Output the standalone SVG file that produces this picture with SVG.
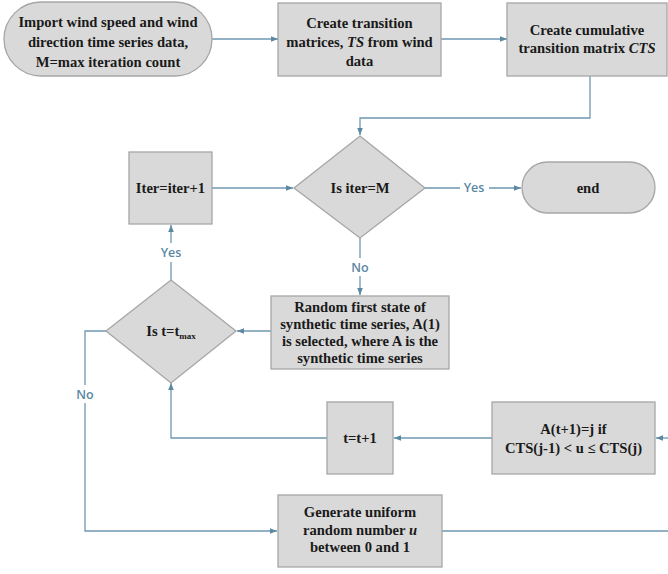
<svg xmlns="http://www.w3.org/2000/svg" width="668" height="574" viewBox="0 0 668 574">
<style>
.n{fill:#d9d9d9;stroke:#a6a6a6;stroke-width:1.3}
.t{font-family:"Liberation Serif","Times New Roman",serif;font-weight:bold;font-size:14.6px;fill:#1a1a1a;text-anchor:middle}
.c{fill:none;stroke:#6e97b0;stroke-width:1.3}
.l{font-family:"Open Sans","Liberation Sans",sans-serif;font-weight:600;font-size:12.5px;fill:#5b88a3;text-anchor:middle}
</style>
<defs>
<marker id="a" viewBox="0 0 10 10" refX="10" refY="5" markerWidth="7" markerHeight="7" orient="auto" markerUnits="userSpaceOnUse">
<path d="M0,1 L10,5 L0,9 Z" fill="#5b88a3"/>
</marker>
</defs>
<rect width="668" height="574" fill="#ffffff"/>
<g id="connectors">
<path class="c" d="M212,39 H278" marker-end="url(#a)"/>
<path class="c" d="M441,39 H507" marker-end="url(#a)"/>
<path class="c" d="M590,76 V118 H360 V135" marker-end="url(#a)"/>
<path class="c" d="M212,188 H293" marker-end="url(#a)"/>
<path class="c" d="M425,188 H460 M489,188 H521" marker-end="url(#a)"/>
<path class="c" d="M360,238 V258 M360,276 V295" marker-end="url(#a)"/>
<path class="c" d="M271,331 H237" marker-end="url(#a)"/>
<path class="c" d="M171,280 V262 M171,243 V225" marker-end="url(#a)"/>
<path class="c" d="M106,331 H85 V385 M85,403 V531 H277" marker-end="url(#a)"/>
<path class="c" d="M327,438 H171 V383" marker-end="url(#a)"/>
<path class="c" d="M492,438 H394" marker-end="url(#a)"/>
<path class="c" d="M442,531 H668"/>
<path class="c" d="M668,438 H656" marker-end="url(#a)"/>
<text class="l" x="474" y="192">Yes</text>
<text class="l" x="171" y="257">Yes</text>
<text class="l" x="360" y="272">No</text>
<text class="l" x="85" y="399">No</text>
</g>
<g id="start">
<rect class="n" x="4" y="2" width="208" height="74" rx="37"/>
<text class="t" x="108" y="27">Import wind speed and wind</text>
<text class="t" x="108" y="47">direction time series data,</text>
<text class="t" x="108" y="67">M=max iteration count</text>
</g>
<g id="transition">
<rect class="n" x="278" y="3" width="163" height="73"/>
<text class="t" x="359.5" y="28">Create transition</text>
<text class="t" x="359.5" y="47">matrices, <tspan font-style="italic">TS</tspan> from wind</text>
<text class="t" x="359.5" y="66">data</text>
</g>
<g id="cumulative">
<rect class="n" x="507" y="3" width="160" height="73"/>
<text class="t" x="587" y="35">Create cumulative</text>
<text class="t" x="587" y="53">transition matrix <tspan font-style="italic">CTS</tspan></text>
</g>
<g id="iter">
<rect class="n" x="129" y="152" width="83" height="72"/>
<text class="t" x="170.5" y="193">Iter=iter+1</text>
</g>
<g id="isiter">
<path class="n" d="M360,136 L425,188 L360,238 L294,188 Z"/>
<text class="t" x="360" y="193">Is iter=M</text>
</g>
<g id="end">
<rect class="n" x="522" y="162" width="133" height="51" rx="25.5"/>
<text class="t" x="588" y="193">end</text>
</g>
<g id="random">
<rect class="n" x="271" y="296" width="178" height="73"/>
<text class="t" x="360" y="312">Random first state of</text>
<text class="t" x="360" y="329">synthetic time series, A(1)</text>
<text class="t" x="360" y="346">is selected, where A is the</text>
<text class="t" x="360" y="363">synthetic time series</text>
</g>
<g id="istmax">
<path class="n" d="M171,280 L236,331 L171,383 L106,331 Z"/>
<text class="t" x="171" y="336">Is t=t<tspan font-size="9" dy="3">max</tspan></text>
</g>
<g id="tinc">
<rect class="n" x="327" y="402" width="66" height="72"/>
<text class="t" x="360" y="443">t=t+1</text>
</g>
<g id="assign">
<rect class="n" x="492" y="402" width="163" height="72"/>
<text class="t" x="573.5" y="434">A(t+1)=j if</text>
<text class="t" x="573.5" y="453">CTS(j-1) &lt; u ≤ CTS(j)</text>
</g>
<g id="generate">
<rect class="n" x="278" y="495" width="164" height="72"/>
<text class="t" x="360" y="517">Generate uniform</text>
<text class="t" x="360" y="535">random number <tspan font-style="italic">u</tspan></text>
<text class="t" x="360" y="552">between 0 and 1</text>
</g>
</svg>
